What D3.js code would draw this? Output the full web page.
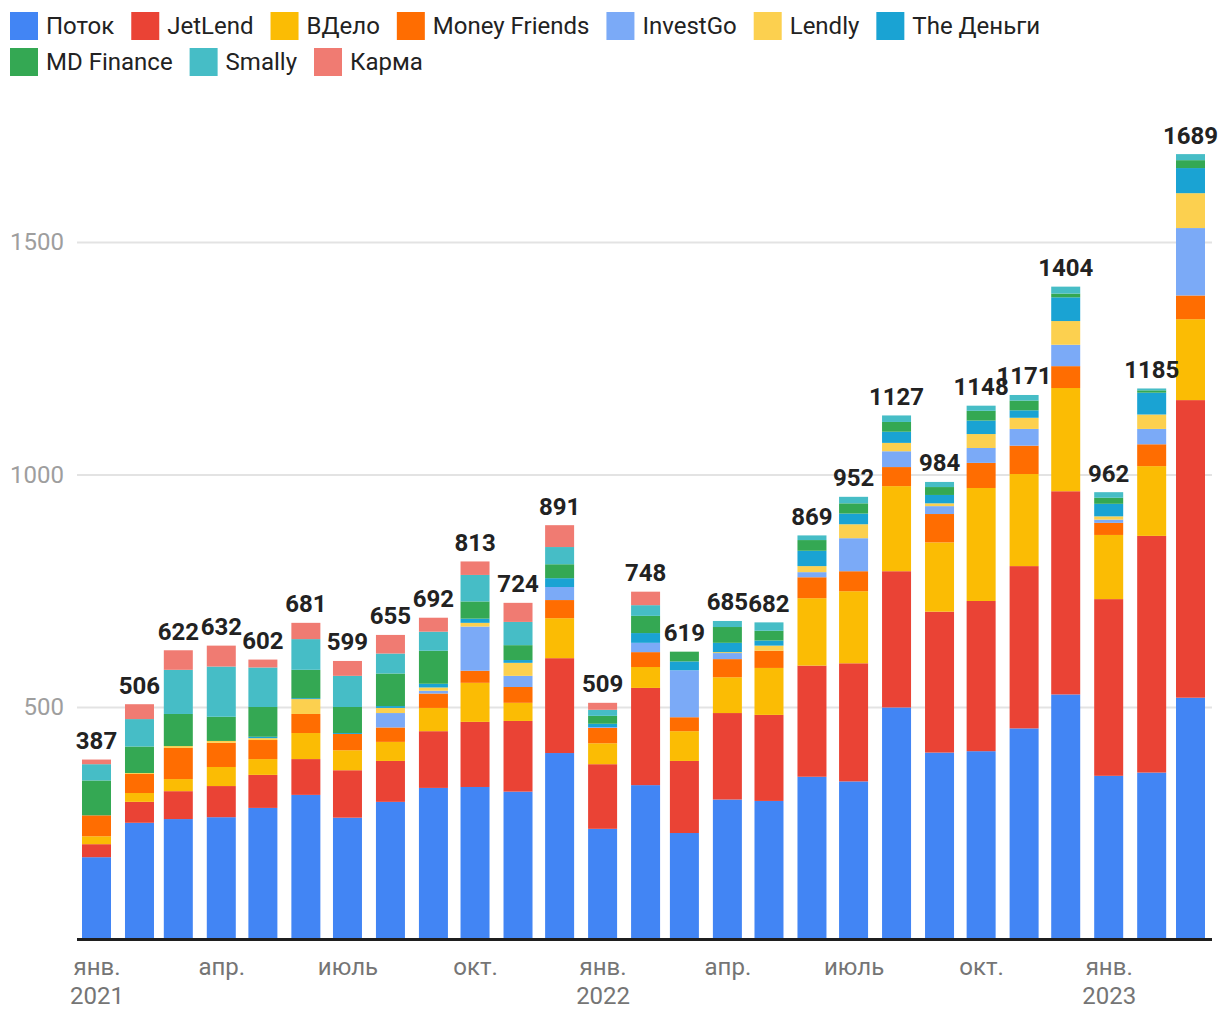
<!DOCTYPE html>
<html><head><meta charset="utf-8">
<script src="https://cdn.jsdelivr.net/npm/d3@7"></script>
<style>
body{margin:0;background:#fff;}
text{font-family:Roboto, "Noto Sans", sans-serif;}
</style>
</head><body>
<svg id="chart" width="1220" height="1020"></svg>
<script>
// ---------- DATA ----------
const months = ["2021-01","2021-02","2021-03","2021-04","2021-05","2021-06","2021-07","2021-08","2021-09","2021-10","2021-11","2021-12",
                "2022-01","2022-02","2022-03","2022-04","2022-05","2022-06","2022-07","2022-08","2022-09","2022-10","2022-11","2022-12",
                "2023-01","2023-02","2023-03"];
const seriesNames  = ["Поток","JetLend","ВДело","Money Friends","InvestGo","Lendly","The Деньги","MD Finance","Smally","Карма"];
const seriesColors = ["#4285F4","#EA4335","#FBBC04","#FF6D01","#7BAAF7","#FCD04F","#1AA3D3","#34A853","#46BDC6","#F07B72"];

const potok        = [177,251,259,263,283,311,262,296,326,328,318,401, 238,332,229,301,298,350,340,499,402,405,454,527, 352,359,520];
const jetlend      = [ 28, 45, 60, 67, 71, 77,102, 88,122,140,152,204, 139,209,155,186,185,239,254,293,303,323,349,437, 380,509,640];
const vdelo        = [ 17, 19, 26, 41, 34, 56, 43, 41, 50, 84, 39, 86,  45, 45, 64, 77,101,145,155,183,149,243,198,222, 138,150,174];
const moneyFriends = [ 45, 41, 67, 52, 41, 41, 35, 31, 31, 26, 34, 39,  33, 32, 30, 39, 37, 45, 43, 41, 61, 54, 61, 47,  26, 47, 51];
const investGo     = [  0,  0,  0,  0,  0,  0,  0, 31,  6, 95, 24, 28,   2, 20,101, 13,  0, 11, 71, 34, 17, 32, 36, 46,   7, 33,145];
const lendly       = [  0,  2,  4,  4,  4, 32,  0, 11,  7,  8, 28,  0,   0,  0,  0,  2, 11, 13, 30, 18,  6, 30, 24, 51,   7, 31, 75];
const theDengi     = [  0,  0,  0,  0,  3,  2,  2,  4,  8,  9,  6, 19,   7, 21, 19, 20, 11, 33, 23, 24, 18, 29, 16, 51,  27, 47, 54];
const mdFinance    = [ 75, 57, 69, 52, 64, 61, 56, 70, 71, 37, 32, 30,  17, 37, 21, 34, 21, 23, 22, 21, 17, 21, 21,  8,  13,  5, 17];
const smally       = [ 35, 59, 95,108, 85, 66, 67, 43, 41, 57, 50, 37,  13, 23,  0, 13, 18, 10, 14, 14, 11, 11, 12, 15,  12,  4, 13];
const karma        = [ 10, 32, 42, 45, 17, 35, 32, 40, 30, 29, 41, 47,  15, 29,  0,  0,  0,  0,  0,  0,  0,  0,  0,  0,   0,  0,  0];
const totals       = [387,506,622,632,602,681,599,655,692,813,724,891, 509,748,619,685,682,869,952,1127,984,1148,1171,1404, 962,1185,1689];

const yTickValues  = [500,1000,1500];
const xTickMonths  = ["2021-01","2021-04","2021-07","2021-10","2022-01","2022-04","2022-07","2022-10","2023-01"];
const xTickNames   = ["янв.","апр.","июль","окт.","янв.","апр.","июль","окт.","янв."];
const xTickYears   = ["2021","","","","2022","","","","2023"];

// ---------- BUILD ----------
const seriesValues = [potok,jetlend,vdelo,moneyFriends,investGo,lendly,theDengi,mdFinance,smally,karma];
const parse = s => { const [y,m] = s.split("-").map(Number); return new Date(Date.UTC(y, m-1, 1)); };

const rows = months.map((m,i) => {
  const r = {date: parse(m), total: totals[i]};
  seriesNames.forEach((n,k) => r[n] = seriesValues[k][i]);
  return r;
});

const svg = d3.select("#chart");
const plotLeft = 77, plotRight = 1212, baseY = 939.5;

const x = d3.scaleUtc()
  .domain([parse(months[0]), parse(months[months.length-1])])
  .range([96.5, 1190.5]);
const y = d3.scaleLinear().domain([0,1500]).range([baseY, 242]);
const barW = 29;

// gridlines + y labels
const yAxis = d3.axisLeft(y).tickValues(yTickValues).tickFormat(d3.format("d"))
  .tickSize(-(plotRight-plotLeft)).tickPadding(13);
const gy = svg.append("g").attr("transform", `translate(${plotLeft},0)`).call(yAxis);
gy.select(".domain").remove();
gy.selectAll(".tick line").attr("stroke","#e3e3e3").attr("stroke-width",2);
gy.selectAll(".tick text").attr("fill","#9e9e9e").attr("font-size",24)
  .attr("font-family","Roboto, sans-serif");

// stacked bars
const stack = d3.stack().keys(seriesNames)(rows);
const color = d3.scaleOrdinal().domain(seriesNames).range(seriesColors);

svg.append("g").selectAll("g").data(stack).join("g")
  .attr("fill", d => color(d.key))
  .selectAll("rect").data(d => d).join("rect")
  .attr("x", d => x(d.data.date) - barW/2)
  .attr("width", barW)
  .attr("y", d => y(d[1]))
  .attr("height", d => Math.max(0, y(d[0]) - y(d[1])));

// baseline
svg.append("line").attr("x1",plotLeft).attr("x2",plotRight)
  .attr("y1",baseY).attr("y2",baseY).attr("stroke","#1f1f1f").attr("stroke-width",3);

// total labels
svg.append("g").selectAll("text").data(rows).join("text")
  .attr("x", d => x(d.date))
  .attr("y", d => y(d3.sum(seriesNames, n => d[n])) - 10.5)
  .attr("text-anchor","middle")
  .attr("font-size",24).attr("font-weight","bold").attr("fill","#222")
  .text(d => d.total);

// x axis labels
const xAxis = d3.axisBottom(x).tickValues(xTickMonths.map(parse))
  .tickFormat((d,i) => xTickNames[i]).tickSize(0).tickPadding(0);
const gx = svg.append("g").attr("transform", `translate(0,${baseY})`).call(xAxis);
gx.select(".domain").remove();
gx.selectAll(".tick text").attr("fill","#757575").attr("font-size",24)
  .attr("font-family","Roboto, sans-serif").attr("dy",null).attr("y",35);
gx.selectAll(".tick").append("text")
  .attr("fill","#757575").attr("font-size",24).attr("text-anchor","middle")
  .attr("y",64.5)
  .text((d,i) => xTickYears[i]);

// legend
const legend = svg.append("g");
const rowsLayout = [[0,1,2,3,4,5,6],[7,8,9]];
rowsLayout.forEach((idxs, r) => {
  let cx = 10;
  const top = 12 + r*36;
  idxs.forEach(k => {
    legend.append("rect").attr("x",cx).attr("y",top).attr("width",28).attr("height",28)
      .attr("fill", seriesColors[k]);
    const t = legend.append("text").attr("x",cx+36).attr("y",top+22)
      .attr("font-size",24).attr("fill","#222").text(seriesNames[k]);
    cx += 36 + t.node().getComputedTextLength() + 17;
  });
});
</script>
</body></html>
